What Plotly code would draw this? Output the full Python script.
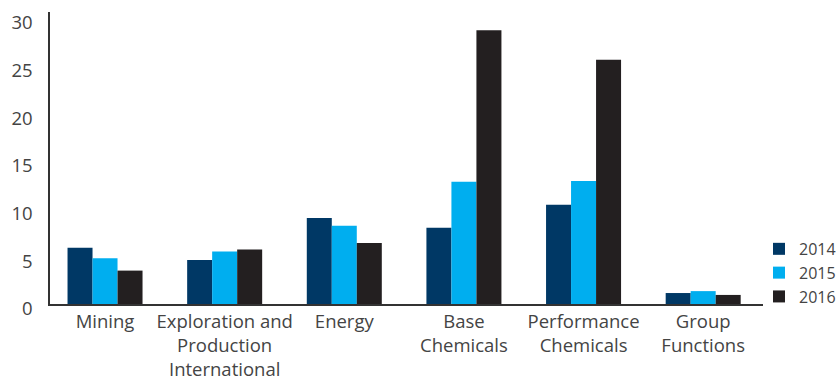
import plotly.graph_objects as go

categories = [
    "Mining",
    "Exploration and<br>Production<br>International",
    "Energy",
    "Base<br>Chemicals",
    "Performance<br>Chemicals",
    "Group<br>Functions",
]
years = ["2014", "2015", "2016"]
values_2014 = [5.9, 4.6, 9.0, 8.0, 10.4, 1.15]
values_2015 = [4.8, 5.5, 8.2, 12.8, 12.9, 1.35]
values_2016 = [3.5, 5.7, 6.4, 28.7, 25.6, 0.95]
colors = ["#003865", "#00AEEF", "#231F20"]
y_ticks = [0, 5, 10, 15, 20, 25, 30]

series = [values_2014, values_2015, values_2016]
text_color = "#444444"
font_family = "'Open Sans', sans-serif"

fig = go.Figure()
for name, vals, col in zip(years, series, colors):
    fig.add_trace(go.Bar(x=list(range(len(categories))), y=vals, name=name,
                         marker=dict(color=col, line=dict(width=0))))

fig.update_layout(
    width=836, height=378,
    margin=dict(l=50, r=73, t=12, b=74, autoexpand=False),
    paper_bgcolor="white", plot_bgcolor="white",
    barmode="group", bargap=0.373, bargroupgap=0,
    font=dict(family=font_family, size=18.5, color=text_color),
    showlegend=True,
    legend=dict(x=0.9944, xanchor="left", y=-0.034, yanchor="bottom",
                font=dict(size=16, color=text_color),
                tracegroupgap=0, bgcolor="rgba(0,0,0,0)"),
)
fig.update_xaxes(
    range=[-0.46, 5.5], automargin=False,
    tickmode="array", tickvals=list(range(len(categories))), ticktext=categories,
    showline=True, linecolor="#333333", linewidth=1.5,
    showgrid=False, ticks="", zeroline=False,
    tickfont=dict(size=18.5, color=text_color),
)
fig.update_yaxes(
    range=[0, 30.6], automargin=False,
    tickmode="array", tickvals=y_ticks,
    showline=True, linecolor="#333333", linewidth=1.5,
    showgrid=False, ticks="", zeroline=False,
    ticklabelstandoff=12, ticklabelshift=5,
    tickfont=dict(size=18.5, color=text_color),
)

fig.write_html("out.html")
